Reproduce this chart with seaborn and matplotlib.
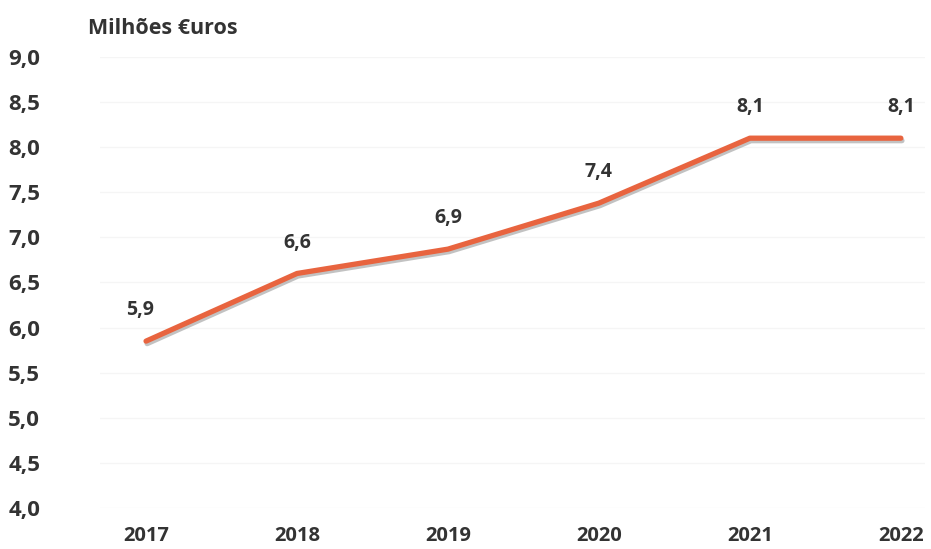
import pandas as pd
import seaborn as sns
import matplotlib.pyplot as plt
import matplotlib.patheffects as pe
from matplotlib.ticker import FuncFormatter

anos = ['2017', '2018', '2019', '2020', '2021', '2022']
valores = [5.85, 6.6, 6.87, 7.38, 8.1, 8.1]
rotulos = ['5,9', '6,6', '6,9', '7,4', '8,1', '8,1']

df = pd.DataFrame({'ano': anos, 'valor': valores})
df['pos'] = range(len(df))

sns.set_style('white')
plt.rcParams['font.family'] = ['Open Sans', 'DejaVu Sans']

fig = plt.figure(figsize=(9.31, 5.49), dpi=100)
ax = fig.add_axes([100 / 931, 1 - 508 / 549, 825 / 931, 451 / 549])

sns.lineplot(data=df, x='pos', y='valor', ax=ax, color='#E8643F', linewidth=3.8,
             path_effects=[pe.SimpleLineShadow(offset=(0.8, -1.8), shadow_color='#9a9a9a', alpha=0.6),
                           pe.Normal()])

for i, (v, t) in enumerate(zip(valores, rotulos)):
    ax.annotate(t, (i, v), xytext=(-4 if i == 0 else 0, 15), textcoords='offset points',
                ha='center', va='bottom', fontsize=14, fontweight='bold', color='#333333')

ax.set_xlim(-0.305, 5.16)
ax.set_ylim(4.0, 9.0)
ax.set_yticks([4.0 + 0.5 * k for k in range(11)])
ax.yaxis.set_major_formatter(FuncFormatter(lambda v, p: f'{v:.1f}'.replace('.', ',')))
ax.set_xticks(df['pos'])
ax.set_xticklabels(anos)

for lbl in ax.get_yticklabels():
    lbl.set_horizontalalignment('left')
ax.tick_params(axis='y', pad=66, labelsize=16, length=0, labelcolor='#333333')
ax.tick_params(axis='x', pad=13, labelsize=14.5, length=0, labelcolor='#333333')
for lbl in ax.get_yticklabels() + ax.get_xticklabels():
    lbl.set_fontweight('bold')

ax.grid(axis='y', color='#f5f5f5', linewidth=1)
for s in ax.spines.values():
    s.set_visible(False)
ax.set_xlabel('')
ax.set_ylabel('')

fig.text(88 / 931, 1 - 28 / 549, 'Milhões €uros', fontsize=15.5, fontweight='bold',
         color='#333333', va='center', ha='left')

fig.savefig('out.png', dpi=100)
